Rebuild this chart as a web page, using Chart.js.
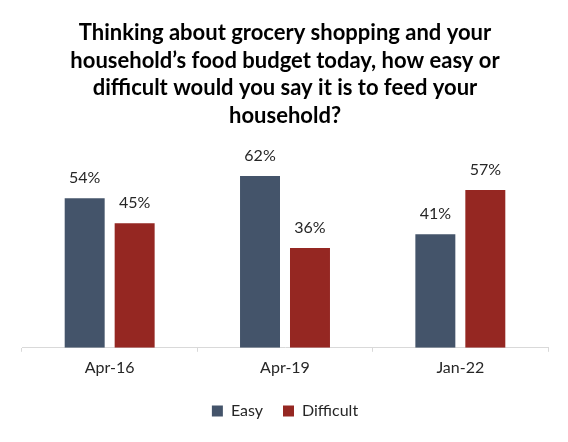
<!DOCTYPE html>
<html>
<head>
<meta charset="utf-8">
<script src="https://cdn.jsdelivr.net/npm/chart.js@4"></script>
<style>
  html, body { margin: 0; padding: 0; background: #ffffff; }
  #wrap { width: 568px; height: 442px; }
</style>
</head>
<body>
<div id="wrap"><canvas id="foodChart" width="568" height="442"></canvas></div>
<script>
'use strict';
var categories = ["Apr-16", "Apr-19", "Jan-22"];
var easyValues = [54, 62, 41];
var difficultValues = [45, 36, 57];
var seriesNames = ["Easy", "Difficult"];
var titleLines = [
    "Thinking about grocery shopping and your",
    "household\u2019s food budget today, how easy or",
    "difficult would you say it is to feed your",
    "household?"
];

var foodchartjs = function () {
    return {

        init: function () {
            foodchartjs.handleBarChart();
        },

        //DRAW PERCENT LABELS ABOVE EACH BAR
        labelPlugin: {
            id: "barLabels",
            afterDatasetsDraw: function (chart) {
                var ctx = chart.ctx;
                ctx.save();
                ctx.font = "16px Lato";
                ctx.fillStyle = "#262626";
                ctx.textAlign = "center";
                ctx.textBaseline = "alphabetic";
                chart.data.datasets.forEach(function (ds, i) {
                    chart.getDatasetMeta(i).data.forEach(function (bar, j) {
                        ctx.fillText(ds.data[j] + "%", bar.x, bar.y - 15);
                    });
                });
                ctx.restore();
            }
        },

        handleBarChart: function () {
            var barColors = ["#44546A", "#952722"];
            new Chart("foodChart", {
                type: "bar",
                data: {
                    labels: categories,
                    datasets: [{
                        label: seriesNames[0],
                        data: easyValues,
                        backgroundColor: barColors[0],
                        barPercentage: 0.8,
                        categoryPercentage: 0.57
                    }, {
                        label: seriesNames[1],
                        data: difficultValues,
                        backgroundColor: barColors[1],
                        barPercentage: 0.8,
                        categoryPercentage: 0.57
                    }]
                },
                options: {
                    responsive: false,
                    animation: false,
                    layout: { padding: { left: 22, right: 20, top: 19, bottom: 13 } },
                    plugins: {
                        title: {
                            display: true,
                            text: titleLines,
                            color: "#000000",
                            font: { family: "Lato", size: 22, weight: "bold", lineHeight: 1.26 },
                            padding: { top: 0, bottom: 24 }
                        },
                        legend: {
                            position: "bottom",
                            labels: {
                                color: "#262626",
                                font: { family: "Lato", size: 16 },
                                boxWidth: 11,
                                boxHeight: 11,
                                padding: 20
                            }
                        },
                        tooltip: { enabled: false }
                    },
                    scales: {
                        x: {
                            grid: {
                                display: true,
                                drawOnChartArea: false,
                                tickLength: 4,
                                color: "#D9D9D9"
                            },
                            border: { color: "#D9D9D9", width: 1 },
                            ticks: {
                                color: "#262626",
                                font: { family: "Lato", size: 16 },
                                padding: 6
                            }
                        },
                        y: {
                            display: false,
                            min: 0,
                            max: 70
                        }
                    }
                },
                plugins: [foodchartjs.labelPlugin]
            });
        }

    };

}();

// Call main function init
foodchartjs.init();
</script>
</body>
</html>
